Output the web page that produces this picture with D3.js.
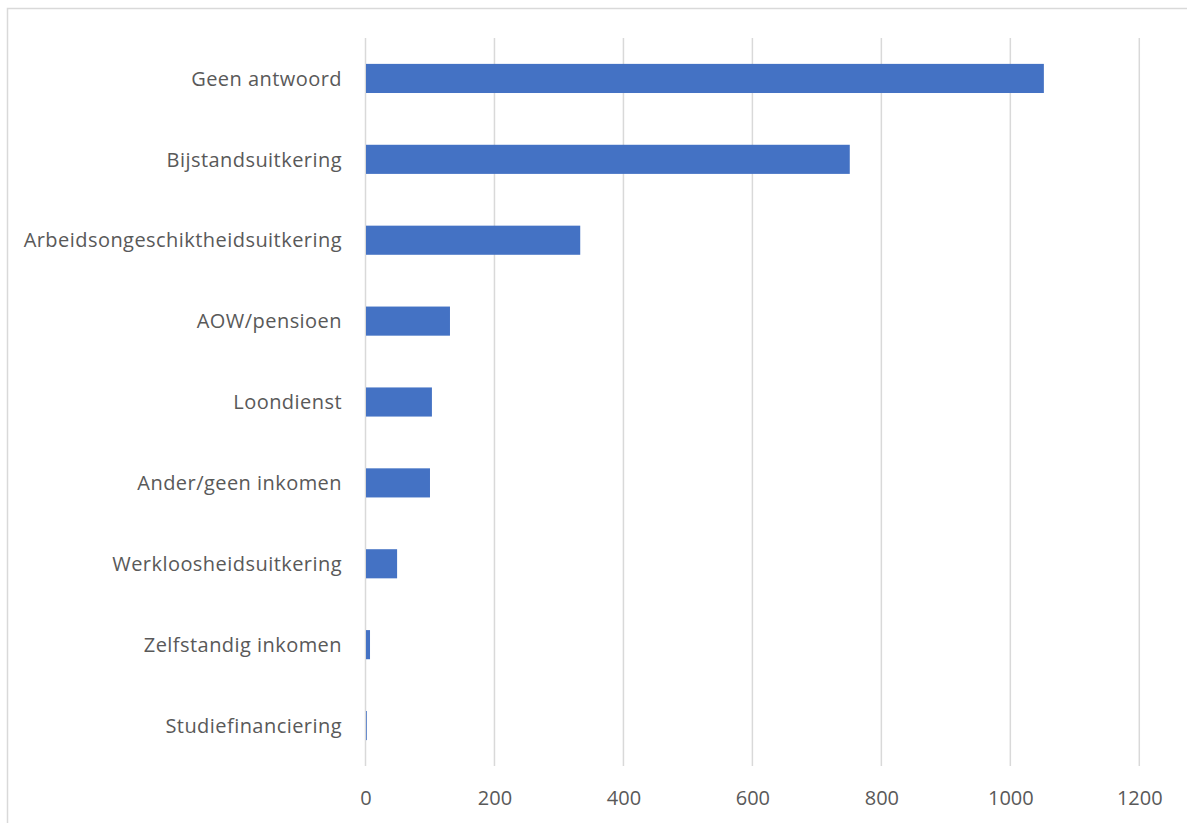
<!DOCTYPE html>
<html>
<head>
<meta charset="utf-8">
<script src="https://cdn.jsdelivr.net/npm/d3@7"></script>
<style>
  html, body { margin: 0; padding: 0; background: #fff; }
  svg { display: block; }
  text { font-family: "Open Sans", "Noto Sans", sans-serif; fill: #595959; }
</style>
</head>
<body>
<svg id="chart" width="1187" height="823"></svg>
<script>
// Inkomensbron per categorie
const categories = [
  "Geen antwoord",
  "Bijstandsuitkering",
  "Arbeidsongeschiktheidsuitkering",
  "AOW/pensioen",
  "Loondienst",
  "Ander/geen inkomen",
  "Werkloosheidsuitkering",
  "Zelfstandig inkomen",
  "Studiefinanciering"
];
const values = [1052, 751, 333, 131, 103, 100, 49, 7, 2];
const xTicks = [0, 200, 400, 600, 800, 1000, 1200];

const svg = d3.select("#chart");
const W = 1187, H = 823;

// chart frame
svg.append("rect")
  .attr("x", 7.5).attr("y", 8.5)
  .attr("width", W + 10).attr("height", H + 10)
  .attr("fill", "none").attr("stroke", "#d9d9d9").attr("stroke-width", 1.5);

const plot = { left: 365.5, right: 1139.3, top: 38, bottom: 766 };

const x = d3.scaleLinear().domain([0, 1200]).range([plot.left, plot.right]);
const y = d3.scaleBand().domain(categories).range([plot.top, plot.bottom])
  .paddingInner(0.64).paddingOuter(0.32);

// vertical gridlines
svg.append("g").selectAll("line").data(xTicks).join("line")
  .attr("x1", d => x(d)).attr("x2", d => x(d))
  .attr("y1", plot.top).attr("y2", plot.bottom)
  .attr("stroke", "#d9d9d9").attr("stroke-width", 1.5);

// bars
svg.append("g").selectAll("rect").data(categories).join("rect")
  .attr("x", x(0) + 0.5)
  .attr("y", d => y(d))
  .attr("width", (d, i) => Math.max(0, x(values[i]) - x(0) - 0.5))
  .attr("height", y.bandwidth())
  .attr("fill", "#4472C4");

// category labels
const yAxis = d3.axisLeft(y).tickSize(0).tickPadding(0);
const gy = svg.append("g").attr("transform", `translate(342,0)`).call(yAxis);
gy.select(".domain").remove();
gy.selectAll("text").attr("font-size", 20).attr("fill", "#595959")
  .attr("letter-spacing", "0.45px").attr("dy", "0.36em")
  .style("font-family", '"Open Sans", sans-serif');

// value axis labels
const xAxis = d3.axisBottom(x).tickValues(xTicks).tickSize(0).tickPadding(0).tickFormat(d3.format("d"));
const gx = svg.append("g").attr("transform", `translate(0,791)`).call(xAxis);
gx.select(".domain").remove();
gx.selectAll("text").attr("font-size", 20).attr("fill", "#595959")
  .style("font-family", '"Open Sans", sans-serif');
</script>
</body>
</html>
